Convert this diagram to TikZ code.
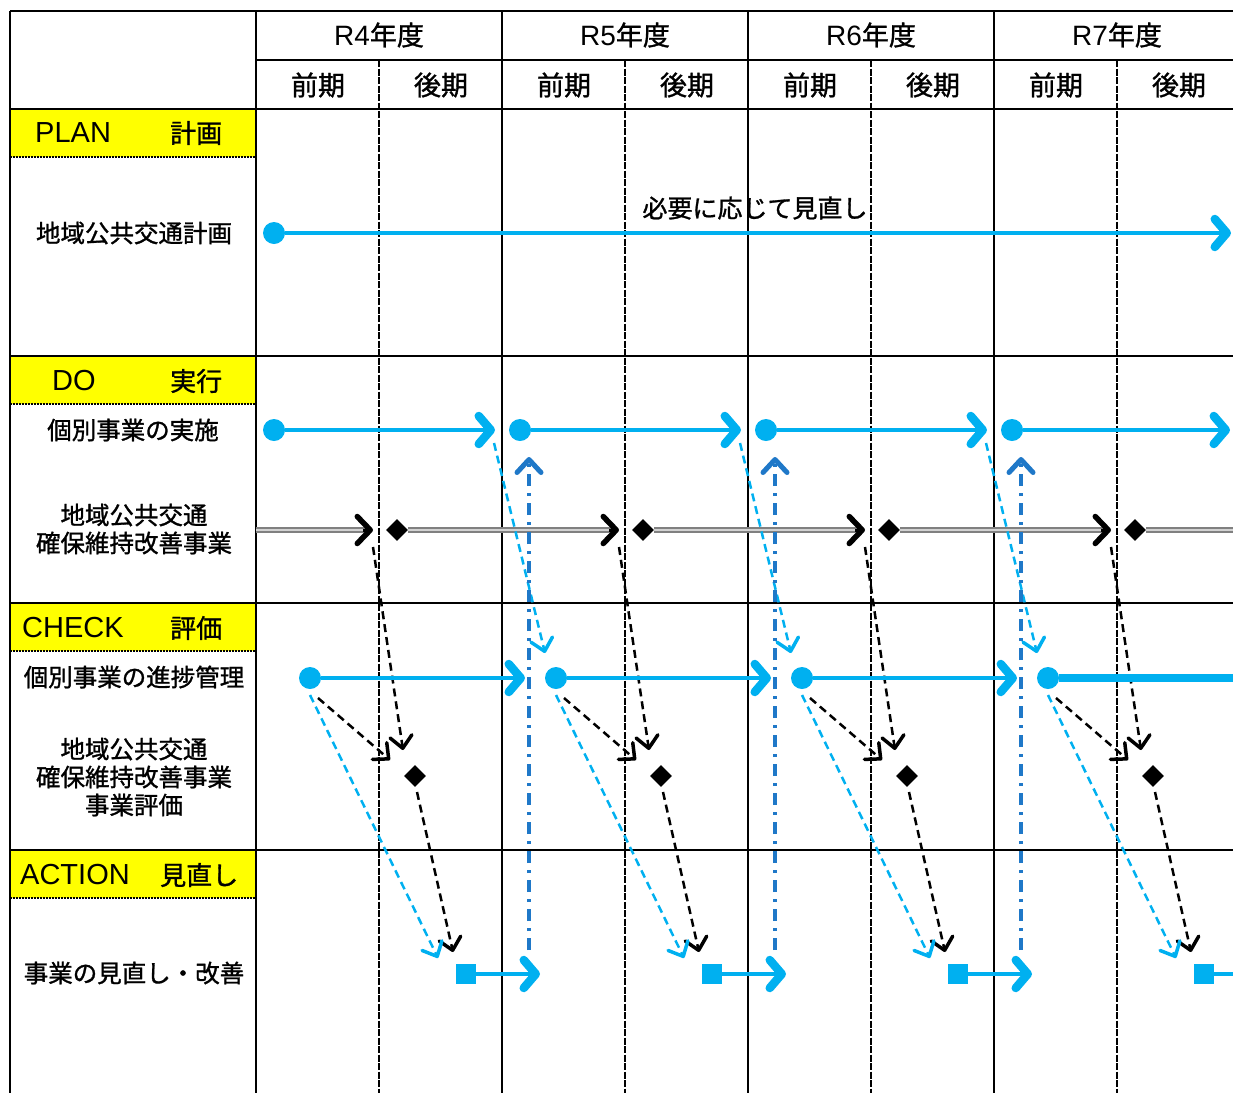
\documentclass[tikz,border=0pt]{standalone}
\usepackage{fontspec}
\setmainfont{Noto Sans CJK JP}[FakeBold=1.2]
\newfontfamily\ar{Liberation Sans}
\usetikzlibrary{arrows.meta,shapes.geometric,calc}
\definecolor{cyanb}{HTML}{00B0F0}
\definecolor{darkb}{HTML}{1F78C8}
\definecolor{hl}{HTML}{FFFF00}
\begin{document}
\begin{tikzpicture}[x=1pt,y=-1pt,
  gridl/.style={line width=1.4pt,black},
  half/.style={line width=1.1pt,black,dash pattern=on 7pt off 1.5pt},
  bluearrow/.style={cyanb,line width=4.5pt,-{Straight Barb[length=12pt,width=28pt,line width=8.5pt,round]}},
  blueline/.style={cyanb,line width=4.5pt},
  bdot/.style={circle,fill=cyanb,inner sep=0pt,minimum size=22pt},
  dia/.style={diamond,fill=black,inner sep=0pt,minimum size=22pt},
  sq/.style={rectangle,fill=cyanb,inner sep=0pt,minimum size=20pt},
  lbl/.style={font=\fontsize{24.5}{30}\selectfont,align=center,inner sep=0pt},
  hdr/.style={font=\fontsize{27}{30}\selectfont,inner sep=0pt},
  sec/.style={font=\fontsize{26}{30}\selectfont,inner sep=0pt,anchor=west},
  bdash/.style={cyanb,line width=2.5pt,dash pattern=on 8pt off 5pt,-{Straight Barb[length=12pt,width=22pt,line width=3.5pt,round]}},
  kdash/.style={black,line width=2.5pt,dash pattern=on 8pt off 5pt,-{Straight Barb[length=12pt,width=22pt,line width=3.5pt,round]}},
  ddash/.style={darkb,line width=3.5pt,dash pattern=on 12pt off 7pt on 3pt off 7pt,-{Straight Barb[length=13pt,width=24pt,line width=5pt,round]}},
  grayline/.style={draw=gray,line width=1.8pt,double=gray!35,double distance=1.6pt},
  karrow/.style={black,line width=3pt,-{Straight Barb[length=13pt,width=27pt,line width=5.5pt,round]}}
]
\useasboundingbox (0,0) rectangle (1233,1093);
% yellow section headers
\foreach \y in {109,356,603,850}{
  \fill[hl] (10,\y) rectangle (256,\y+48);
  \draw[black,line width=2pt,dash pattern=on 1.6pt off 1.4pt] (10,\y+48) -- (256,\y+48);
}
% grid
\draw[gridl] (10,11) -- (1233,11);
\draw[gridl] (256,60) -- (1233,60);
\foreach \y in {109,356,603,850} \draw[gridl] (10,\y) -- (1233,\y);
\draw[gridl] (10,11) -- (10,1093);
\foreach \x in {256,502,748,994} \draw[gridl] (\x,11) -- (\x,1093);
\foreach \x in {379,625,871,1117} \draw[half] (\x,60) -- (\x,1093);
% header texts
\foreach \n/\x in {4/379,5/625,6/871,7/1117}{
  \node[hdr] (yr\n) at (\x,35) {{\ar\fontsize{28}{30}\selectfont R\n}年度};
  \node[hdr] (zen\n) at (\x-61,85) {前期};
  \node[hdr] (kou\n) at (\x+62,85) {後期};
}
% section labels
\node[sec] (plan) at (35,133) {\makebox[135pt][l]{\ar\fontsize{29}{30}\selectfont PLAN}計画};
\node[sec] (do) at (52,381) {\makebox[118pt][l]{\ar\fontsize{29}{30}\selectfont DO}実行};
\node[sec] (check) at (22,628) {\makebox[148pt][l]{\ar\fontsize{29}{30}\selectfont CHECK}評価};
\node[sec] (action) at (20,875) {\makebox[140pt][l]{\ar\fontsize{29}{30}\selectfont ACTION}見直し};
% row labels
\node[lbl] (l1) at (134,233) {地域公共交通計画};
\node[lbl] (l2) at (133,430) {個別事業の実施};
\node[lbl] (l3) at (134,529) {地域公共交通\\[-2pt]確保維持改善事業};
\node[lbl] (l4) at (134,677) {個別事業の進捗管理};
\node[lbl] (l5) at (134,777) {地域公共交通\\[-2pt]確保維持改善事業\\[-2pt]事業評価};
\node[lbl] (l6) at (134,973) {事業の見直し・改善};
% PLAN row
\node[bdot] (p0) at (274,233) {};
\coordinate (pend) at (1231,233);
\draw[bluearrow] (p0) -- (pend);
\node[font=\fontsize{25}{30}\selectfont,inner sep=0pt] (note) at (755,208) {必要に応じて見直し};
% gray double line row
\coordinate (gstart) at (256,530);
\foreach \i in {0,1,2,3}{
  \pgfmathsetmacro\ox{246*\i}
  \coordinate (gt\i) at (373+\ox,530);
  \node[dia] (dd\i) at (397+\ox,530) {};
}
\draw[grayline] (gstart) -- ($(gt0)+(-6,0)$);
\draw[grayline] (dd0) -- ($(gt1)+(-6,0)$);
\draw[grayline] (dd1) -- ($(gt2)+(-6,0)$);
\draw[grayline] (dd2) -- ($(gt3)+(-6,0)$);
\coordinate (gend) at (1233,530);
\draw[grayline] (dd3) -- (gend);
\foreach \i in {0,1,2,3}{
  \draw[karrow] ($(gt\i)+(-10,0)$) -- (gt\i);
}
% nodes per year
\foreach \i in {0,1,2,3}{
  \pgfmathsetmacro\ox{246*\i}
  \node[bdot] (dc\i) at (274+\ox,430) {};
  \node[bdot] (cc\i) at (310+\ox,678) {};
  \node[dia] (cd\i) at (415+\ox,776) {};
  \node[sq] (as\i) at (466+\ox,974) {};
  \coordinate (dt\i) at (495+\ox,430);
  \coordinate (ct\i) at (525+\ox,678);
  \coordinate (at\i) at (540+\ox,974);
  % diagonal connectors
  \coordinate (k1s\i) at (373+\ox,547);
  \coordinate (k1e\i) at (403+\ox,750);
  \draw[kdash] (k1s\i) -- (k1e\i);
  \coordinate (k2s\i) at (318+\ox,698);
  \coordinate (k2e\i) at (390+\ox,760);
  \draw[kdash] (k2s\i) -- (k2e\i);
  \coordinate (k3s\i) at (417+\ox,792);
  \coordinate (k3e\i) at (453+\ox,952);
  \draw[kdash] (k3s\i) -- (k3e\i);
  \coordinate (b2s\i) at (310+\ox,695);
  \coordinate (b2e\i) at (438+\ox,958);
  \draw[bdash] (b2s\i) -- (b2e\i);
}
\foreach \i in {0,1,2}{
  \pgfmathsetmacro\ox{246*\i}
  \draw[bluearrow] (dc\i) -- (dt\i);
  \draw[bluearrow] (cc\i) -- (ct\i);
  \draw[bluearrow] (as\i) -- (at\i);
  \coordinate (b1s\i) at (494+\ox,443);
  \coordinate (b1e\i) at (545+\ox,653);
  \draw[bdash] (b1s\i) -- (b1e\i);
  \coordinate (vs\i) at (529+\ox,950);
  \coordinate (ve\i) at (529+\ox,457);
  \draw[ddash] (vs\i) -- (ve\i);
}
\coordinate (dt3) at (1230,430);
\draw[bluearrow] (dc3) -- (dt3);
\coordinate (ct3) at (1233,678);
\draw[cyanb,line width=7.5pt] (cc3) -- (ct3);
\coordinate (at3) at (1233,974);
\draw[blueline] (as3) -- (at3);
\end{tikzpicture}
\end{document}
